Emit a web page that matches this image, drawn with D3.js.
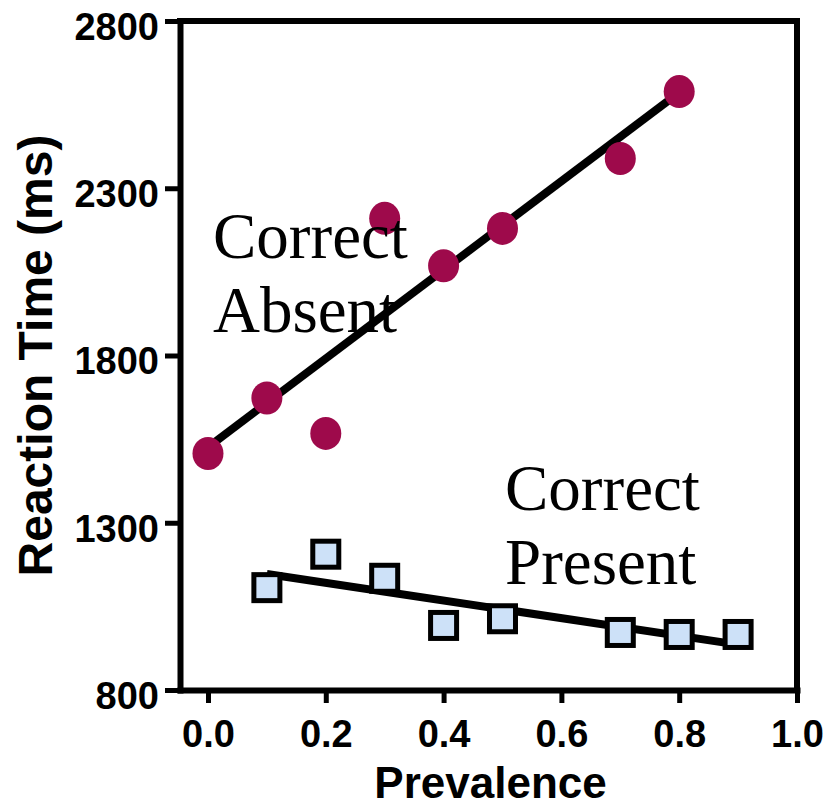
<!DOCTYPE html>
<html lang="en">

<head>
    <meta charset="UTF-8">
    <title>Reaction time vs prevalence</title>
    <script src="https://d3js.org/d3.v7.min.js"></script>
    <style>
        * {
            padding: 0;
            margin: 0;
        }

        body {
            background: #fff;
        }

        .axis text {
            font-family: "Liberation Sans", Arial, sans-serif;
            font-weight: bold;
            font-size: 38px;
            fill: #000;
        }

        .note {
            font-family: "Liberation Serif", "Times New Roman", serif;
            font-size: 65px;
            fill: #000;
        }
    </style>
</head>

<body>
    <div class="context"></div>
    <script>
        // prevalence / mean RT
        let absentX = [0.0, 0.1, 0.2, 0.3, 0.4, 0.5, 0.7, 0.8];
        let absentRT = [1507, 1673, 1567, 2210, 2068, 2180, 2389, 2589];
        let presentX = [0.1, 0.2, 0.3, 0.4, 0.5, 0.7, 0.8, 0.9];
        let presentRT = [1106, 1206, 1134, 993, 1013, 972, 966, 966];
        let xTicks = [0.0, 0.2, 0.4, 0.6, 0.8, 1.0];
        let yTicks = [800, 1300, 1800, 2300, 2800];

        let absentColor = "#9e0a4b";
        let presentColor = "#cde1f8";

        const W = 827, H = 808;
        const pL = 180, pR = 797, pT = 21, pB = 690; // plot box

        var svg = d3.select(".context")
            .append("svg")
            .attr("width", W)
            .attr("height", H);

        const x = d3.scaleLinear().domain([-0.0475, 1]).range([pL, pR]);
        const y = d3.scaleLinear().domain([800, 2800]).range([pB, pT]);

        // least squares fit, drawn over the range of the data
        function fit(xs, ys) {
            const mx = d3.mean(xs), my = d3.mean(ys);
            let sxy = 0, sxx = 0;
            xs.forEach((v, i) => {
                sxy += (v - mx) * (ys[i] - my);
                sxx += (v - mx) * (v - mx);
            });
            const b = sxy / sxx, a = my - b * mx;
            const x0 = d3.min(xs), x1 = d3.max(xs);
            return [[x0, a + b * x0], [x1, a + b * x1]];
        }

        // axes
        let yAxis = svg.append("g")
            .attr("class", "axis")
            .attr("transform", "translate(" + pL + ",0)")
            .call(d3.axisLeft(y).tickValues(yTicks).tickSize(15).tickSizeOuter(0).tickPadding(6)
                .tickFormat(d3.format("d")));
        yAxis.selectAll("text").attr("dy", "0.48em");

        let xAxis = svg.append("g")
            .attr("class", "axis")
            .attr("transform", "translate(0," + pB + ")")
            .call(d3.axisBottom(x).tickValues(xTicks).tickSize(13).tickSizeOuter(0).tickPadding(17)
                .tickFormat(d3.format(".1f")));

        svg.selectAll(".axis .domain")
            .attr("stroke", "#000")
            .attr("stroke-width", 6)
            .attr("stroke-linecap", "square");
        svg.selectAll(".axis .tick line")
            .attr("stroke", "#000")
            .attr("stroke-width", 5);

        // frame top + right
        svg.append("path")
            .attr("d", "M" + pL + "," + pT + "H" + pR + "V" + pB)
            .attr("fill", "none")
            .attr("stroke", "#000")
            .attr("stroke-width", 6)
            .attr("stroke-linecap", "square");

        // axis titles
        svg.append("text")
            .attr("x", (pL + pR) / 2 + 2)
            .attr("y", 798)
            .attr("text-anchor", "middle")
            .style("font-family", "'Liberation Sans', Arial, sans-serif")
            .style("font-weight", "bold")
            .style("font-size", "44px")
            .text("Prevalence");

        svg.append("text")
            .attr("transform", "translate(52," + (pT + pB) / 2 + ") rotate(-90)")
            .attr("text-anchor", "middle")
            .style("font-family", "'Liberation Sans', Arial, sans-serif")
            .style("font-weight", "bold")
            .style("font-size", "48px")
            .text("Reaction Time (ms)");

        // regression lines
        let line = d3.line().x(d => x(d[0])).y(d => y(d[1]));
        [fit(absentX, absentRT), fit(presentX, presentRT)].forEach(seg => {
            svg.append("path")
                .attr("d", line(seg))
                .attr("stroke", "#000")
                .attr("stroke-width", 8)
                .attr("fill", "none");
        });

        // markers
        svg.selectAll("ellipse.absent")
            .data(absentX.map((v, i) => [v, absentRT[i]]))
            .enter().append("ellipse")
            .attr("class", "absent")
            .attr("cx", d => x(d[0]))
            .attr("cy", d => y(d[1]))
            .attr("rx", 15.5)
            .attr("ry", 16.5)
            .attr("fill", absentColor);

        let sq = 26;
        svg.selectAll("rect.present")
            .data(presentX.map((v, i) => [v, presentRT[i]]))
            .enter().append("rect")
            .attr("class", "present")
            .attr("x", d => x(d[0]) - sq / 2)
            .attr("y", d => y(d[1]) - sq / 2)
            .attr("width", sq)
            .attr("height", sq)
            .attr("fill", presentColor)
            .attr("stroke", "#000")
            .attr("stroke-width", 5);

        // labels on top of everything
        function note(lines, x0, y0) {
            lines.forEach((t, i) => {
                svg.append("text")
                    .attr("class", "note")
                    .attr("x", x0)
                    .attr("y", y0 + i * 74)
                    .text(t);
            });
        }
        note(["Correct", "Absent"], 213, 258);
        note(["Correct", "Present"], 505, 510);
    </script>
</body>

</html>
